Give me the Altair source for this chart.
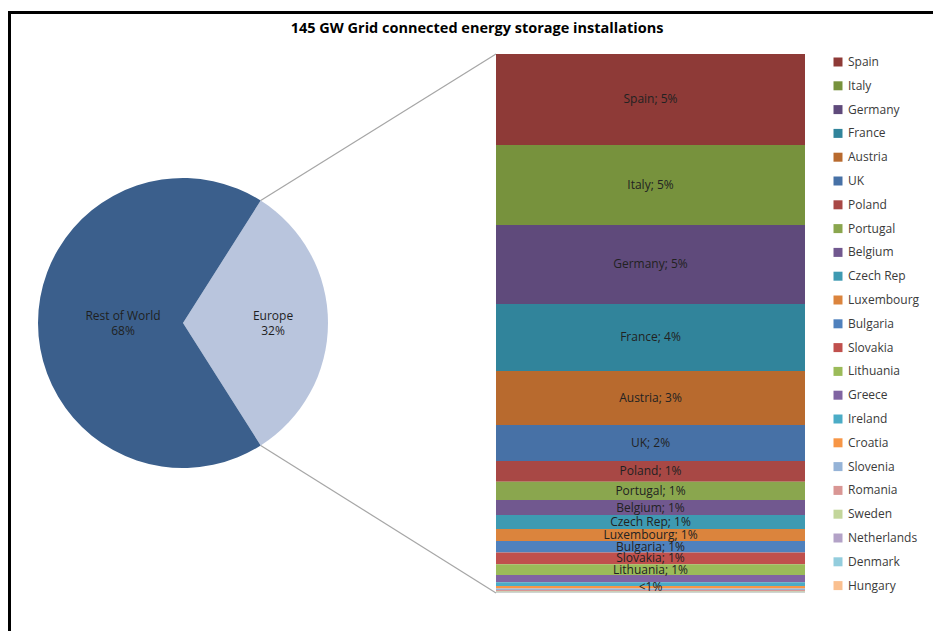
import math

import altair as alt
import pandas as pd

# ---- data -----------------------------------------------------------------
regions = ["Europe", "Rest of World"]
region_shares = [32, 68]
region_colors = ["#B9C5DD", "#3B5F8C"]

countries = [
    "Spain", "Italy", "Germany", "France", "Austria", "UK", "Poland",
    "Portugal", "Belgium", "Czech Rep", "Luxembourg", "Bulgaria", "Slovakia",
    "Lithuania", "Greece", "Ireland", "Croatia", "Slovenia", "Romania",
    "Sweden", "Netherlands", "Denmark", "Hungary",
]
country_shares = [
    5.40, 4.75, 4.69, 3.98, 3.21, 2.14, 1.22,
    1.09, 0.89, 0.83, 0.71, 0.69, 0.69,
    0.64, 0.43, 0.22, 0.16, 0.08, 0.06,
    0.05, 0.03, 0.02, 0.02,
]
country_colors = [
    "#8E3A37", "#77923D", "#5F4A7B", "#31849B", "#B86A2E", "#4771A6", "#A84845",
    "#8AA64E", "#71588F", "#3E9AB2", "#DB843D", "#4F81BD", "#C0504D",
    "#9BBB59", "#8064A2", "#4BACC6", "#F79646", "#95B3D7", "#D99694",
    "#C3D69B", "#B3A2C7", "#93CDDD", "#FAC090",
]
small_share_label = "<1%"
small_share_anchor = "Croatia"

title_text = "145 GW Grid connected energy storage installations"

# ---- layout ---------------------------------------------------------------
W, H = 805, 539            # plot area (bar column spans its full height)
PAD_TOP, PAD_LEFT = 54, 0
CX, CY, R = 183, 269, 145  # pie centre and radius
BAR_X0, BAR_X1 = 496, 805
FONT = "Open Sans"

europe_total = sum(country_shares)

# rotate the pie so the Europe slice is centred on 3 o'clock
half = math.pi * region_shares[0] / 100
start = math.pi / 2 - half
theta_scale = alt.Scale(range=[start, start + 2 * math.pi])

# slice edge points for the connector lines
edge_dx = R * math.cos(half)
edge_dy = R * math.sin(half)

pie_df = pd.DataFrame({
    "region": regions,
    "share": region_shares,
    "idx": list(range(len(regions))),
    "label": [f"{r}\n{s}%" for r, s in zip(regions, region_shares)],
})

labels = []
for name, v in zip(countries, country_shares):
    if v >= 0.5:
        labels.append(f"{name}; {int(v + 0.5)}%")
    elif name == small_share_anchor:
        labels.append(small_share_label)
    else:
        labels.append("")

bar_df = pd.DataFrame({
    "country": countries,
    "share": country_shares,
    "rank": list(range(len(countries))),
    "label": labels,
})

y_scale = alt.Scale(domain=[0, europe_total], nice=False, zero=True)

# ---- frame and heading ------------------------------------------------------
one_row = pd.DataFrame({"f": [0]})
frame = alt.Chart(one_row).mark_rect(
    filled=False, color="black", strokeWidth=3
).encode(
    x=alt.value(9.5), x2=alt.value(990),
    y=alt.value(12.5 - PAD_TOP), y2=alt.value(700),
)
heading = alt.Chart(one_row).mark_text(
    text=title_text, font=FONT, fontSize=14.5, fontWeight="bold",
    color="#000000", align="center", baseline="middle",
).encode(x=alt.value(477), y=alt.value(29 - PAD_TOP))

# ---- pie -----------------------------------------------------------------
pie_base = alt.Chart(pie_df).encode(
    theta=alt.Theta("share:Q", stack=True, scale=theta_scale),
    order=alt.Order("idx:Q"),
    x=alt.value(CX),
    y=alt.value(CY),
)
pie = pie_base.mark_arc(outerRadius=R).encode(
    color=alt.Color("region:N",
                    scale=alt.Scale(domain=regions, range=region_colors),
                    legend=None)
)
pie_text_rest = pie_base.mark_text(
    radius=60, font=FONT, fontSize=12, color="#1F1F1F", lineBreak="\n",
    align="center", baseline="middle", lineHeight=15, dy=-7,
).encode(
    text="label:N",
    opacity=alt.condition(alt.datum.region == "Rest of World",
                          alt.value(1), alt.value(0)),
)
pie_text_eu = pie_base.mark_text(
    radius=90, font=FONT, fontSize=12, color="#1F1F1F", lineBreak="\n",
    align="center", baseline="middle", lineHeight=15, dy=-7,
).encode(
    text="label:N",
    opacity=alt.condition(alt.datum.region == "Europe",
                          alt.value(1), alt.value(0)),
)

# ---- connector lines -------------------------------------------------------
conn_df = pd.DataFrame({"level": [europe_total, 0]})
conn_top = alt.Chart(conn_df).transform_filter("datum.level > 0").mark_rule(
    color="#A6A6A6", strokeWidth=1.2
).encode(
    x=alt.value(BAR_X0), y=alt.Y("level:Q", scale=y_scale, axis=None),
    x2=alt.value(CX + edge_dx), y2=alt.value(CY - edge_dy),
)
conn_bottom = alt.Chart(conn_df).transform_filter("datum.level == 0").mark_rule(
    color="#A6A6A6", strokeWidth=1.2
).encode(
    x=alt.value(BAR_X0), y=alt.Y("level:Q", scale=y_scale, axis=None),
    x2=alt.value(CX + edge_dx), y2=alt.value(CY + edge_dy),
)

# ---- stacked Europe breakdown (Spain on top, Hungary at the bottom) ---------
stacked = alt.Chart(bar_df).transform_window(
    s1="sum(share)",
    sort=[alt.SortField("rank", order="descending")],
    frame=[None, 0],
).transform_calculate(
    s0="datum.s1 - datum.share",
    mid="datum.s1 - datum.share / 2",
)

bars = stacked.mark_rect().encode(
    x=alt.value(BAR_X0),
    x2=alt.value(BAR_X1),
    y=alt.Y("s0:Q", scale=y_scale, axis=None),
    y2="s1:Q",
    color=alt.Color(
        "country:N",
        scale=alt.Scale(domain=countries, range=country_colors),
        sort=countries,
        legend=alt.Legend(
            title=None, orient="right", offset=25, padding=2,
            symbolType="square", symbolSize=81, symbolStrokeWidth=0,
            labelFont=FONT, labelFontSize=12, labelColor="#3A3A3A",
            rowPadding=11.8, labelOffset=4, labelLimit=200,
        ),
    ),
)

bar_text = stacked.mark_text(
    font=FONT, fontSize=12, color="#222222", align="center", baseline="middle"
).encode(
    x=alt.value((BAR_X0 + BAR_X1) / 2),
    y=alt.Y("mid:Q", scale=y_scale, axis=None),
    text="label:N",
)

chart = alt.layer(
    frame, heading, conn_top, conn_bottom, pie, pie_text_rest, pie_text_eu,
    bars, bar_text,
).resolve_scale(
    color="independent"
).properties(
    width=W,
    height=H,
    autosize=alt.AutoSizeParams(type="none"),
    padding={"left": PAD_LEFT, "top": PAD_TOP, "right": 933 - W - PAD_LEFT,
             "bottom": 631 - H - PAD_TOP},
    background="white",
).configure_view(stroke=None)

chart.save("out.html", embed_options={"renderer": "svg", "actions": False})
